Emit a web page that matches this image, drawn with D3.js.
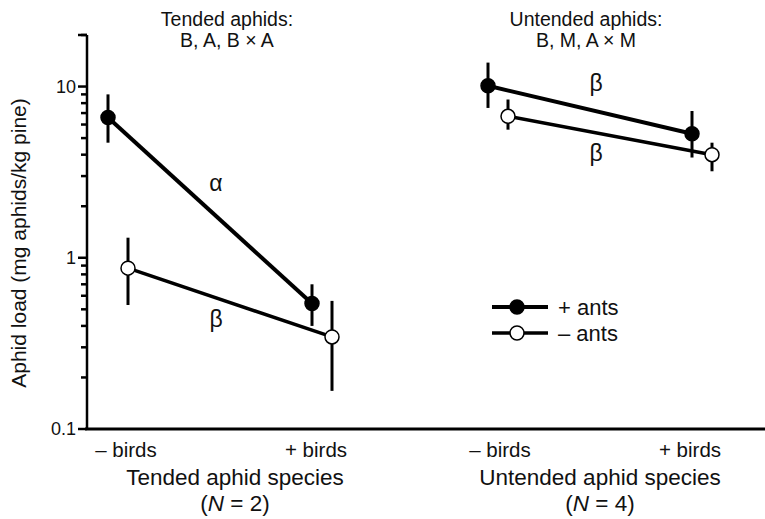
<!DOCTYPE html>
<html>
<head>
<meta charset="utf-8">
<script src="https://cdn.jsdelivr.net/npm/d3@7"></script>
<style>
  body { margin: 0; background: #fff; }
  text { font-family: "Liberation Sans", Arial, sans-serif; fill: #111; }
</style>
</head>
<body>
<script>
// categories
var groups = ['Tended aphid species', 'Untended aphid species'];
var groupN = ['2', '4'];
var birdLevels = ['\u2013 birds', '+ birds'];
var groupNotes = [['Tended aphids:', 'B, A, B \u00d7 A'], ['Untended aphids:', 'B, M, A \u00d7 M']];

// series: order = tended -birds, tended +birds, untended -birds, untended +birds
var plusAntsMean = [6.6, 0.54, 10.1, 5.3];
var plusAntsLow = [4.7, 0.40, 7.5, 3.85];
var plusAntsHigh = [9.0, 0.70, 13.8, 7.2];
var minusAntsMean = [0.87, 0.345, 6.7, 4.0];
var minusAntsLow = [0.53, 0.167, 5.6, 3.2];
var minusAntsHigh = [1.31, 0.56, 8.4, 4.7];

// greek letters on the lines: [letter, group, value]
var greek = [['\u03b1', 0, 2.66], ['\u03b2', 0, 0.43], ['\u03b2', 1, 10.2], ['\u03b2', 1, 4.0]];

var yTicks = [0.1, 1, 10];

var w = 765,
    h = 519;

var svg = d3.select('body')
            .append('svg')
            .attr('width', w)
            .attr('height', h);

var xGroup = d3.scaleBand()
               .domain(groups)
               .range([30, 790]);

// points inside a group, and the tick labels (a bit closer together)
var xBirds = d3.scalePoint()
               .domain(birdLevels)
               .range([-102, 102]);
var xBirdsLabel = d3.scalePoint()
                    .domain(birdLevels)
                    .range([-95, 95]);

// small nudges per group (labels / notes are not exactly centred in the original)
var labelShift = [1, -5],
    titleShift = [15, 0],
    noteShift = [7, -14];

var yScale = d3.scaleLog()
               .domain([0.1, 20])
               .range([429, 35]);

var axisX = 87;

function gc(g) {
  return xGroup(groups[g]) + xGroup.bandwidth() / 2;
}

function cx(i) {
  return gc(Math.floor(i / 2)) + xBirds(birdLevels[i % 2]);
}

var series = [
  {name: '+ ants', mean: plusAntsMean, low: plusAntsLow, high: plusAntsHigh, off: -10, fill: '#000', lw: 4},
  {name: '\u2013 ants', mean: minusAntsMean, low: minusAntsLow, high: minusAntsHigh, off: 10, fill: '#fff', lw: 3.5}
];

// y axis with minor ticks
var minor = [];
[0.1, 1, 10].forEach(function(d) {
  for (var k = 2; k <= 9; k++) {
    if (d * k <= 20) minor.push(d * k);
  }
});

svg.append('line')
   .attr('x1', axisX).attr('x2', axisX)
   .attr('y1', yScale(20)).attr('y2', yScale(0.1))
   .attr('stroke', '#000').attr('stroke-width', 2.5);

svg.selectAll('.minor')
   .data(minor)
   .enter()
   .append('line')
   .attr('x1', axisX - 6).attr('x2', axisX)
   .attr('y1', function(d) { return yScale(d); })
   .attr('y2', function(d) { return yScale(d); })
   .attr('stroke', '#000').attr('stroke-width', 2.5);

svg.selectAll('.major')
   .data(yTicks.concat([20]))
   .enter()
   .append('line')
   .attr('x1', axisX - 9).attr('x2', axisX)
   .attr('y1', function(d) { return yScale(d); })
   .attr('y2', function(d) { return yScale(d); })
   .attr('stroke', '#000').attr('stroke-width', 2.5);

svg.selectAll('.ylab')
   .data(yTicks)
   .enter()
   .append('text')
   .text(function(d) { return d; })
   .attr('x', axisX - 11)
   .attr('y', function(d) { return yScale(d) + 6; })
   .attr('text-anchor', 'end')
   .attr('font-size', '18px');

svg.append('text')
   .text('Aphid load (mg aphids/kg pine)')
   .attr('transform', 'translate(26,243) rotate(-90)')
   .attr('text-anchor', 'middle')
   .attr('font-size', '21px');

// x axis line
svg.append('line')
   .attr('x1', axisX - 2).attr('x2', w)
   .attr('y1', yScale(0.1)).attr('y2', yScale(0.1))
   .attr('stroke', '#000').attr('stroke-width', 3);

// category labels
svg.selectAll('.xlab')
   .data(d3.range(4))
   .enter()
   .append('text')
   .text(function(i) { return birdLevels[i % 2]; })
   .attr('x', function(i) {
      var g = Math.floor(i / 2);
      return gc(g) + xBirdsLabel(birdLevels[i % 2]) + labelShift[g];
   })
   .attr('y', 457)
   .attr('text-anchor', 'middle')
   .attr('font-size', '20.5px');

svg.selectAll('.glab')
   .data(groups)
   .enter()
   .append('text')
   .text(function(d) { return d; })
   .attr('x', function(d, i) { return gc(i) + titleShift[i]; })
   .attr('y', 485)
   .attr('text-anchor', 'middle')
   .attr('font-size', '22.5px');

var nlab = svg.selectAll('.nlab')
   .data(groupN)
   .enter()
   .append('text')
   .attr('x', function(d, i) { return gc(i) + titleShift[i]; })
   .attr('y', 511)
   .attr('text-anchor', 'middle')
   .attr('font-size', '22.5px');
nlab.append('tspan').text('(');
nlab.append('tspan').text('N').attr('font-style', 'italic');
nlab.append('tspan').text(function(d) { return ' = ' + d + ')'; });

// group notes at top
groupNotes.forEach(function(lines, gi) {
  lines.forEach(function(t, li) {
    svg.append('text')
       .text(t)
       .attr('x', gc(gi) + noteShift[gi])
       .attr('y', 26 + li * 21)
       .attr('text-anchor', 'middle')
       .attr('font-size', '19.5px');
  });
});

// lines, error bars, markers per series and group
series.forEach(function(s) {
  var pts = d3.range(4).map(function(i) {
    return {x: cx(i) + s.off, y: s.mean[i], lo: s.low[i], hi: s.high[i], g: Math.floor(i / 2)};
  });

  [0, 1].forEach(function(g) {
    var gp = pts.filter(function(p) { return p.g === g; });
    svg.append('path')
       .datum(gp)
       .attr('d', d3.line()
                    .x(function(p) { return p.x; })
                    .y(function(p) { return yScale(p.y); }))
       .attr('fill', 'none')
       .attr('stroke', '#000')
       .attr('stroke-width', s.lw);
  });

  svg.selectAll(null)
     .data(pts)
     .enter()
     .append('line')
     .attr('x1', function(p) { return p.x; })
     .attr('x2', function(p) { return p.x; })
     .attr('y1', function(p) { return yScale(p.lo); })
     .attr('y2', function(p) { return yScale(p.hi); })
     .attr('stroke', '#000')
     .attr('stroke-width', 3);

  svg.selectAll(null)
     .data(pts)
     .enter()
     .append('circle')
     .attr('cx', function(p) { return p.x; })
     .attr('cy', function(p) { return yScale(p.y); })
     .attr('r', 7)
     .attr('fill', s.fill)
     .attr('stroke', '#000')
     .attr('stroke-width', 1.5);
});

// greek letters
svg.selectAll('.greek')
   .data(greek)
   .enter()
   .append('text')
   .text(function(d) { return d[0]; })
   .attr('x', function(d) { return gc(d[1]) - 4; })
   .attr('y', function(d) { return yScale(d[2]) + 6; })
   .attr('text-anchor', 'middle')
   .attr('font-family', '"Liberation Serif", "Times New Roman", serif')
   .attr('font-size', '23px');

// legend
var legend = svg.append('g').attr('transform', 'translate(492,307)');
series.forEach(function(s, i) {
  var row = legend.append('g').attr('transform', 'translate(0,' + i * 26 + ')');
  row.append('line')
     .attr('x1', 0).attr('x2', 56)
     .attr('stroke', '#000').attr('stroke-width', s.lw);
  row.append('circle')
     .attr('cx', 25).attr('r', 7)
     .attr('fill', s.fill).attr('stroke', '#000').attr('stroke-width', 1.5);
  row.append('text')
     .text(s.name)
     .attr('x', 66).attr('y', 7.5)
     .attr('font-size', '22px');
});
</script>
</body>
</html>
